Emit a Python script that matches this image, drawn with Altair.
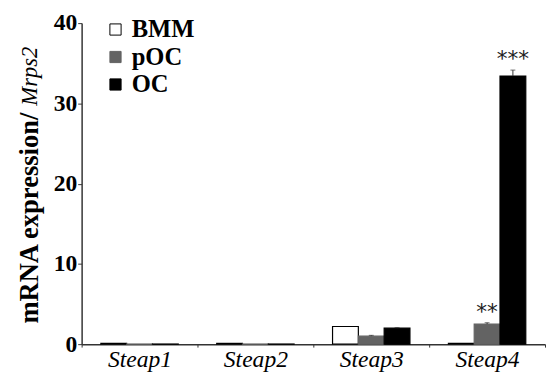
import altair as alt
import pandas as pd

genes = ["Steap1", "Steap2", "Steap3", "Steap4"]
cells = ["BMM", "pOC", "OC"]
bmm_vals = [0.1, 0.1, 2.2, 0.1]
poc_vals = [0.02, 0.02, 1.0, 2.5]
oc_vals = [0.02, 0.02, 2.0, 33.4]
bmm_err = [0.0, 0.0, 0.0, 0.0]
poc_err = [0.0, 0.0, 0.1, 0.17]
oc_err = [0.0, 0.0, 0.06, 0.75]
bmm_sig = ["", "", "", ""]
poc_sig = ["", "", "", "**"]
oc_sig = ["", "", "", "***"]
y_ticks = [0, 10, 20, 30, 40]
ylab_main = ["mRNA expression/"]
ylab_ital = ["Mrps2"]

rows = []
for cell, vals, errs, sigs in [("BMM", bmm_vals, bmm_err, bmm_sig),
                               ("pOC", poc_vals, poc_err, poc_sig),
                               ("OC", oc_vals, oc_err, oc_sig)]:
    for g, v, e, s in zip(genes, vals, errs, sigs):
        rows.append(dict(gene=g, cell=cell, value=v, err=e, top=v + e, sig=s))
df = pd.DataFrame(rows)

SERIF = "Liberation Serif"
H = 327

fill_scale = alt.Scale(domain=cells, range=["#ffffff", "#636363", "#000000"])
stroke_scale = alt.Scale(domain=cells, range=["#000000", "#636363", "#000000"])

x = alt.X("gene:N", sort=genes,
          scale=alt.Scale(paddingInner=0, paddingOuter=0),
          axis=alt.Axis(title=None, labelFont=SERIF, labelFontStyle="italic",
                        labelFontSize=24, labelColor="black", labelAngle=0,
                        tickBand="extent", tickSize=3, tickColor="#333333",
                        domainColor="#333333", domainWidth=1.5, labelPadding=1))
xo = alt.XOffset("cell:N", sort=cells,
                 scale=alt.Scale(paddingOuter=0.745, paddingInner=0))
y = alt.Y("value:Q", scale=alt.Scale(domain=[0, 40], nice=False),
          axis=alt.Axis(values=y_ticks, title=None, grid=False, labelFont=SERIF,
                        labelFontWeight="bold", labelFontSize=24, labelColor="black",
                        tickSize=4, tickColor="#333333", labelPadding=1,
                        domainColor="#333333", domainWidth=1.5))

base = alt.Chart(df)

bars = base.mark_bar(strokeWidth=1.2).encode(
    x=x, xOffset=xo, y=y,
    fill=alt.Fill("cell:N", scale=fill_scale, sort=cells,
                  legend=alt.Legend(title=None, orient="none", legendX=22, legendY=-6,
                                    direction="vertical", symbolType="square",
                                    symbolSize=130, symbolStrokeColor="black",
                                    symbolStrokeWidth=1, labelFont=SERIF,
                                    labelFontWeight="bold", labelFontSize=25,
                                    labelColor="black", rowPadding=2, labelOffset=4,
                                    padding=0)),
    stroke=alt.Stroke("cell:N", scale=stroke_scale, legend=None),
)

errdf = base.transform_filter("datum.err > 0")
err_rule = errdf.mark_rule(color="#333333", strokeWidth=1).encode(
    x=x, xOffset=xo, y="value:Q", y2="top:Q")
err_cap = errdf.mark_tick(color="#333333", thickness=1, size=5).encode(
    x=x, xOffset=xo, y="top:Q")

sig = base.transform_filter("datum.sig != ''").mark_text(
    font="DejaVu Sans", fontSize=22, baseline="middle", dy=-11, color="#222222"
).encode(x=x, xOffset=xo, y="top:Q", text="sig:N")

lab1 = alt.Chart(pd.DataFrame({"t": ylab_main})).mark_text(
    angle=270, align="left", baseline="middle", font=SERIF, fontWeight="bold",
    fontSize=27, color="black"
).encode(x=alt.value(-52), y=alt.value(H - 21), text="t:N")

lab2 = alt.Chart(pd.DataFrame({"t": ylab_ital})).mark_text(
    angle=270, align="right", baseline="middle", font=SERIF, fontStyle="italic",
    fontSize=23, color="black"
).encode(x=alt.value(-52), y=alt.value(24), text="t:N")

chart = alt.layer(bars, err_rule, err_cap, sig, lab1, lab2).properties(
    width=472, height=H,
    padding={"left": 8, "top": 0, "right": 0, "bottom": 0},
).configure_view(strokeWidth=0).configure_axis(
    labelFont=SERIF
).configure_legend(labelFont=SERIF)

chart.save("out.html", embed_options={"renderer": "svg", "actions": False})
